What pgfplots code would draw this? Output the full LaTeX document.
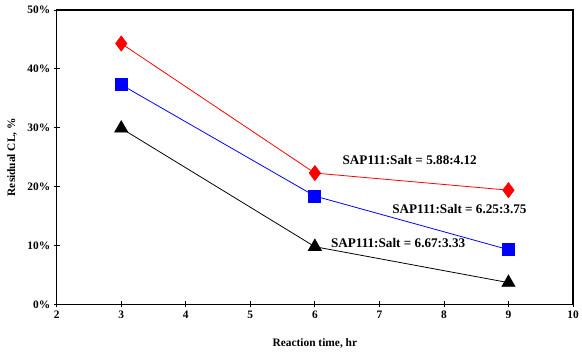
\documentclass[border=0pt]{standalone}
\usepackage{pgfplots}
\pgfplotsset{compat=1.18}
\usepackage{fontspec}
\setmainfont{Liberation Serif}
\begin{document}
\begin{tikzpicture}
\begin{axis}[
  at={(0,0)}, anchor=south west,
  scale only axis, width=519bp, height=296bp,
  xmin=2, xmax=10, ymin=0, ymax=50,
  xtick={2,...,10}, ytick={0,10,...,50},
  yticklabel={\pgfmathprintnumber{\tick}\%},
  /pgf/number format/assume math mode=true,
  tick align=center,
  major tick length=6bp,
  axis line style={line width=1.3pt},
  every tick/.style={black, line width=0.8pt},
  xtick pos=bottom, ytick pos=left,
  ticklabel style={font=\fontsize{11.5}{13}\selectfont\bfseries},
  xlabel={Reaction time, hr},
  ylabel={Residual CL, \%},
  label style={font=\fontsize{11.5}{13}\selectfont\bfseries},
  xlabel style={at={(axis description cs:0.5,0)}, anchor=center, yshift=-39bp},
  ylabel style={at={(axis description cs:0,0.5)}, anchor=center, yshift=45bp},
  clip=false,
]
\addplot[red, line width=0.8pt, mark=diamond*, mark size=7.5bp, mark options={solid, fill=red}]
  coordinates {(3,44.3) (6,22.3) (9,19.4)};
\addplot[blue, line width=0.8pt, mark=square*, mark size=6bp, mark options={solid, fill=blue}]
  coordinates {(3,37.3) (6,18.4) (9,9.3)};
\addplot[black, line width=0.8pt, mark=triangle*, mark size=7.5bp, mark options={solid, fill=black}]
  coordinates {(3,29.9) (6,9.8) (9,3.7)};
\node[font=\fontsize{13.3}{15}\selectfont\bfseries] at (axis cs:7.47,24.5) {SAP111:Salt = 5.88:4.12};
\node[font=\fontsize{13.3}{15}\selectfont\bfseries] at (axis cs:8.24,16.2) {SAP111:Salt = 6.25:3.75};
\node[font=\fontsize{13.3}{15}\selectfont\bfseries] at (axis cs:7.29,10.5) {SAP111:Salt = 6.67:3.33};
\end{axis}
\useasboundingbox (-57bp,-48bp) rectangle (525bp,306bp);
\end{tikzpicture}
\end{document}
